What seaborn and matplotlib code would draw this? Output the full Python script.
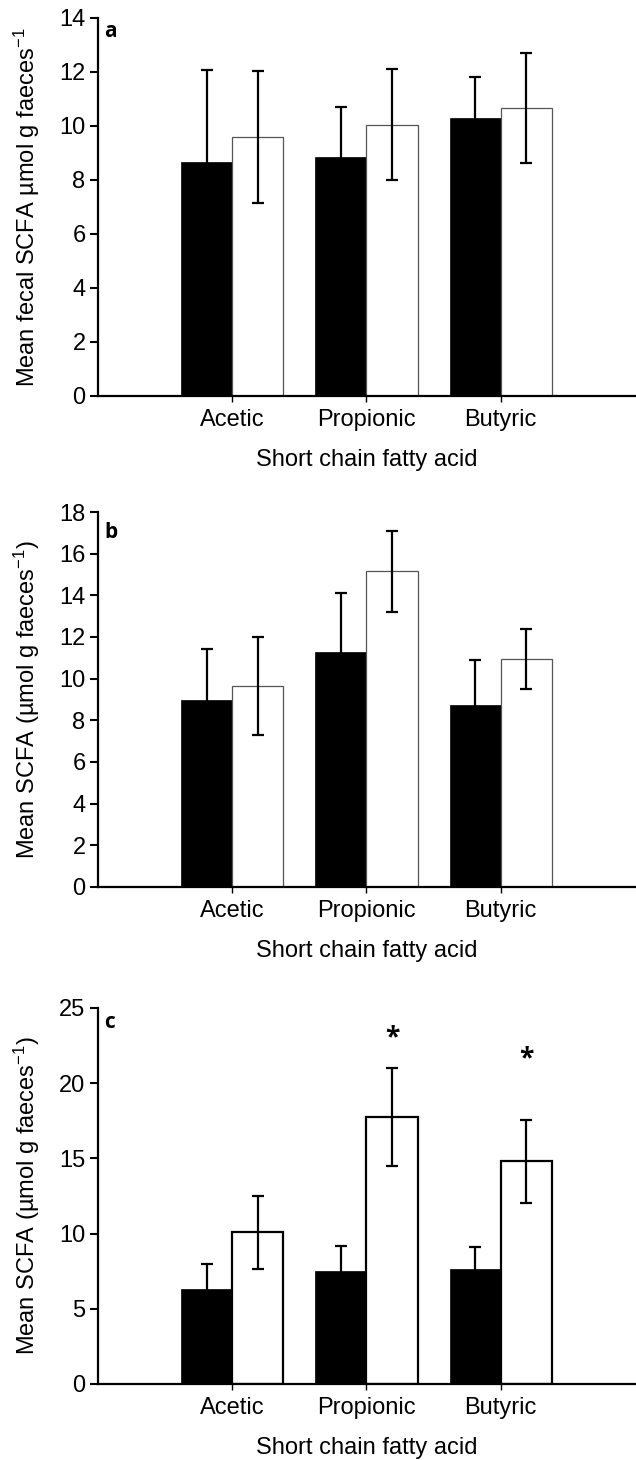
import numpy as np
import pandas as pd
import seaborn as sns
from matplotlib import pyplot as plt

# values
acids = ["Acetic", "Propionic", "Butyric"]
groups = ["Control", "Treated"]

a_black = [8.65, 8.85, 10.30]
a_black_err = [3.42, 1.85, 1.50]
a_white = [9.60, 10.05, 10.67]
a_white_err = [2.45, 2.07, 2.04]

b_black = [8.97, 11.27, 8.75]
b_black_err = [2.44, 2.83, 2.15]
b_white = [9.65, 15.15, 10.95]
b_white_err = [2.34, 1.93, 1.45]

c_black = [6.32, 7.51, 7.63]
c_black_err = [1.66, 1.66, 1.46]
c_white = [10.09, 17.75, 14.80]
c_white_err = [2.42, 3.24, 2.77]

c_star_acids = ["Propionic", "Butyric"]
c_star_heights = [23.0, 21.6]

ylabels = ["Mean fecal SCFA \u00b5mol g faeces$^{-1}$",
           "Mean SCFA (\u00b5mol g faeces$^{-1}$)",
           "Mean SCFA (\u00b5mol g faeces$^{-1}$)"]
ylims = [14, 18, 25]
ysteps = [2, 2, 5]
letters = ["a", "b", "c"]

sns.set_theme(style="ticks")
plt.rcParams["font.family"] = ["Liberation Sans", "DejaVu Sans"]
plt.rcParams["mathtext.default"] = "regular"
plt.rcParams["font.size"] = 17
plt.rcParams["text.color"] = "black"
plt.rcParams["axes.labelcolor"] = "black"

fig = plt.figure(figsize=(6.36, 14.6), dpi=100)

# axes boxes in figure fraction (left, bottom, width, height)
boxes = [[0.1541, 0.7288, 0.8443, 0.2589],
         [0.1541, 0.3925, 0.8443, 0.2568],
         [0.1541, 0.0521, 0.8443, 0.2575]]

panels = [(a_black, a_black_err, a_white, a_white_err),
          (b_black, b_black_err, b_white, b_white_err),
          (c_black, c_black_err, c_white, c_white_err)]

for i, (blk, blk_err, wht, wht_err) in enumerate(panels):
    ax = fig.add_axes(boxes[i])
    df = pd.DataFrame({
        "acid": acids * 2,
        "group": [groups[0]] * 3 + [groups[1]] * 3,
        "value": blk + wht,
    })
    sns.barplot(data=df, x="acid", y="value", hue="group", order=acids,
                hue_order=groups, palette=["black", "white"], width=0.76,
                errorbar=None, legend=False, saturation=1, ax=ax)

    white_edge = "black" if i == 2 else "#555555"
    white_lw = 1.6 if i == 2 else 0.9
    errs = [blk_err, wht_err]
    bar_sets = list(ax.containers)
    for k, cont in enumerate(bar_sets):
        xs = []
        ys = []
        for p in cont.patches:
            if k == 0:
                p.set_edgecolor("black")
                p.set_linewidth(0.5)
            else:
                p.set_edgecolor(white_edge)
                p.set_linewidth(white_lw)
            xs.append(p.get_x() + p.get_width() / 2)
            ys.append(p.get_height())
        ax.errorbar(xs, ys, yerr=errs[k], fmt="none", ecolor="black",
                    elinewidth=1.6, capsize=4.3, capthick=1.6, zorder=5)

    ax.set_xlim(-1, 3)
    ax.set_ylim(0, ylims[i])
    ax.set_yticks(np.arange(0, ylims[i] + 0.1, ysteps[i]))
    ax.set_ylabel(ylabels[i], fontsize=17, color="black")
    ax.set_xlabel("Short chain fatty acid", fontsize=17, labelpad=13,
                  color="black")
    ax.yaxis.set_label_coords(-0.105, 0.5)
    ax.tick_params(axis="y", length=6, width=1.5, pad=3, labelsize=17,
                   colors="black")
    ax.tick_params(axis="x", length=4.5, width=1.0, pad=5, labelsize=17,
                   colors="black")
    for s in ["top", "right"]:
        ax.spines[s].set_visible(False)
    for s in ["left", "bottom"]:
        ax.spines[s].set_linewidth(1.6)
        ax.spines[s].set_color("black")

    ax.text(0.012, [0.95, 0.931, 0.947][i], letters[i], transform=ax.transAxes,
            fontsize=15, fontweight="bold", family=["Open Sans", "DejaVu Sans"],
            va="baseline", ha="left", color="black")

    if i == 2:
        white_bars = bar_sets[1].patches
        for acid, h in zip(c_star_acids, c_star_heights):
            p = white_bars[acids.index(acid)]
            ax.text(p.get_x() + p.get_width() / 2, h, "*", fontsize=19,
                    fontweight="bold", family=["Open Sans", "DejaVu Sans"],
                    ha="center", va="center", color="black")

fig.savefig("out.png", dpi=100)
